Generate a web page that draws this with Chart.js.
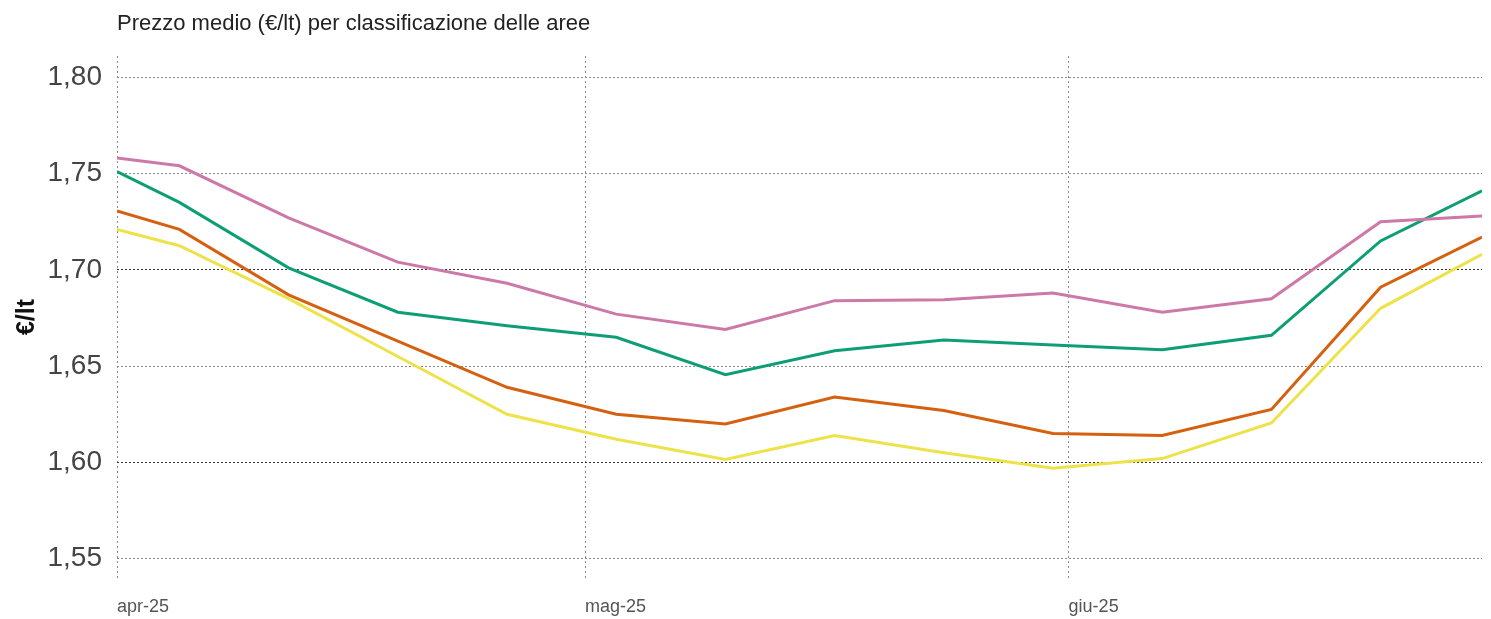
<!DOCTYPE html>
<html lang="it">
<head>
    <meta charset="UTF-8">
    <title>Prezzo medio per classificazione delle aree</title>
    <script src="https://cdn.jsdelivr.net/npm/chart.js"></script>
    <style>
        html, body { margin: 0; padding: 0; background: #fff; }
        body { font-family: 'Liberation Sans', Arial, sans-serif; }
        #wrap { position: relative; width: 1491px; height: 619px; }
        #title {
            position: absolute; left: 117px; top: 10px;
            font-size: 22px; color: #222; white-space: nowrap;
        }
    </style>
</head>
<body>
    <div id="wrap">
        <div id="title">Prezzo medio (€/lt) per classificazione delle aree</div>
        <canvas id="chart" width="1491" height="619"></canvas>
    </div>

    <script>
        // giorni dal 1 aprile 2025 (rilevazioni settimanali)
        const days = [0, 4, 11, 18, 25, 32, 39, 46, 53, 60, 67, 74, 81, 87.5];

        const seriesPink   = [1.758, 1.754, 1.727, 1.704, 1.693, 1.677, 1.669, 1.684, 1.6845, 1.688, 1.678, 1.685, 1.725, 1.728];
        const seriesGreen  = [1.751, 1.735, 1.701, 1.678, 1.671, 1.665, 1.6455, 1.658, 1.6635, 1.661, 1.6585, 1.666, 1.715, 1.741];
        const seriesOrange = [1.7305, 1.721, 1.687, 1.663, 1.639, 1.625, 1.620, 1.634, 1.627, 1.615, 1.614, 1.6275, 1.691, 1.717];
        const seriesYellow = [1.721, 1.7125, 1.685, 1.655, 1.625, 1.612, 1.6015, 1.614, 1.605, 1.597, 1.602, 1.6205, 1.680, 1.708];

        const xTickDays = [0, 30, 61];
        const xTickLabels = ['apr-25', 'mag-25', 'giu-25'];
        const yTicks = [1.55, 1.60, 1.65, 1.70, 1.75, 1.80];

        const toPoints = vals => vals.map((v, i) => ({ x: days[i], y: v }));

        function line(label, vals, color) {
            return {
                label: label,
                data: toPoints(vals),
                borderColor: color,
                backgroundColor: color,
                borderWidth: 3,
                pointRadius: 0,
                tension: 0,
                fill: false
            };
        }

        new Chart(document.getElementById('chart'), {
            type: 'line',
            data: {
                datasets: [
                    line('Area 1', seriesPink, '#CC79A7'),
                    line('Area 2', seriesGreen, '#0E9E76'),
                    line('Area 3', seriesOrange, '#D5600F'),
                    line('Area 4', seriesYellow, '#EEE24A')
                ]
            },
            options: {
                responsive: false,
                animation: false,
                layout: { padding: { top: 56, left: 8, right: 9, bottom: 0 } },
                plugins: {
                    legend: { display: false },
                    tooltip: { enabled: false }
                },
                scales: {
                    x: {
                        type: 'linear',
                        min: 0,
                        max: days[days.length - 1],
                        afterBuildTicks: scale => { scale.ticks = xTickDays.map(v => ({ value: v })); },
                        afterFit: scale => { scale.height = 41; },
                        border: { display: false, dash: [2, 3] },
                        grid: {
                            color: '#8a8a8a',
                            lineWidth: 1,
                            drawTicks: false
                        },
                        ticks: {
                            align: 'start',
                            padding: 18,
                            maxRotation: 0,
                            autoSkip: false,
                            color: '#555',
                            font: { family: 'Liberation Sans', size: 18 },
                            callback: (value) => xTickLabels[xTickDays.indexOf(value)] || ''
                        }
                    },
                    y: {
                        min: 1.54,
                        max: 1.811,
                        afterBuildTicks: scale => { scale.ticks = yTicks.map(v => ({ value: v })); },
                        afterFit: scale => { scale.width = 109; },
                        border: { display: false, dash: [2, 2] },
                        grid: {
                            color: ctx => {
                                const v = ctx.tick ? Math.round(ctx.tick.value * 100) : 0;
                                return (v === 160 || v === 170) ? '#333' : '#8a8a8a';
                            },
                            lineWidth: 1,
                            drawTicks: false
                        },
                        ticks: {
                            padding: 15,
                            color: '#444',
                            font: { family: 'Liberation Sans', size: 28 },
                            callback: (value) => value.toFixed(2).replace('.', ',')
                        },
                        title: {
                            display: true,
                            text: '€/lt',
                            color: '#111',
                            padding: { top: 4, bottom: 0 },
                            font: { family: 'Liberation Sans', size: 25, weight: 'bold' }
                        }
                    }
                }
            }
        });
    </script>
</body>
</html>
